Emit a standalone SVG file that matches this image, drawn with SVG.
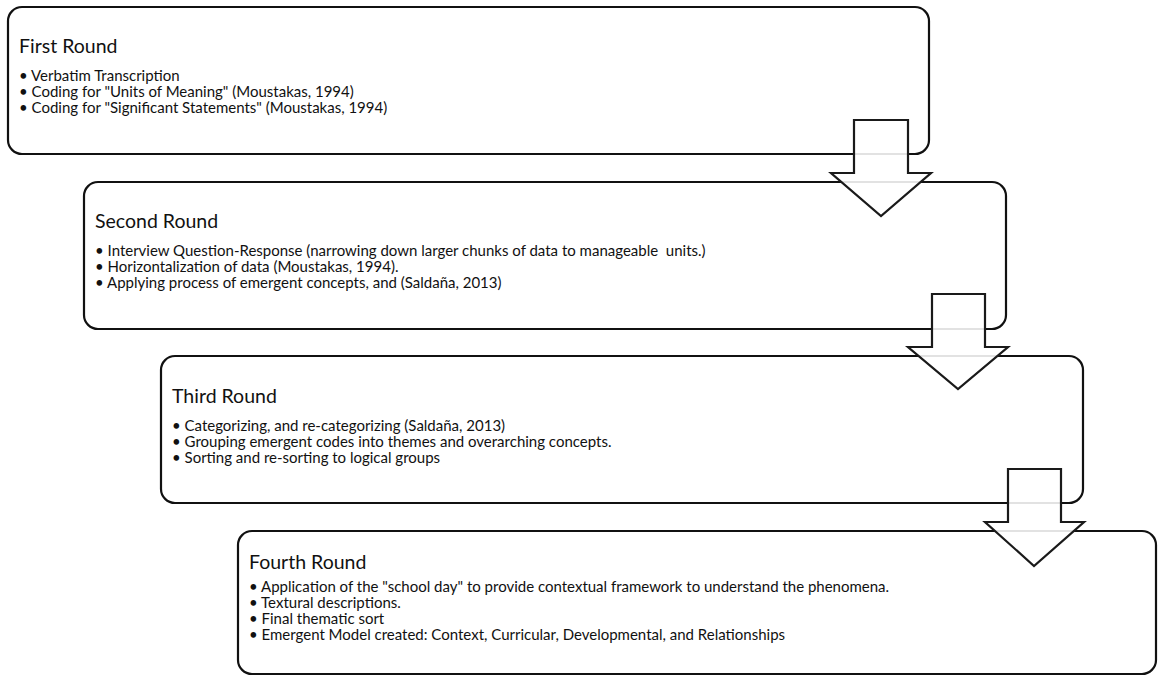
<svg xmlns="http://www.w3.org/2000/svg" width="1158" height="676" viewBox="0 0 1158 676">
<style>
.box{fill:#fff;stroke:#111;stroke-width:2.2}
.arrow{fill:#fff;fill-opacity:0.88;stroke:#1a1a1a;stroke-width:2.2;stroke-linejoin:miter}
.t{font-family:Lato,"Open Sans","Liberation Sans",sans-serif;fill:#111;font-size:19.5px}
.b{font-family:Lato,"Open Sans","Liberation Sans",sans-serif;fill:#111;font-size:15px}
</style>
<rect width="1158" height="676" fill="#fff"/>
<g id="round1">
<rect class="box" x="8" y="7" width="921" height="147" rx="14"/>
<text class="t" x="19" y="53">First Round</text>
<text class="b" x="19" y="81">• Verbatim Transcription</text>
<text class="b" x="19" y="97">• Coding for "Units of Meaning" (Moustakas, 1994)</text>
<text class="b" x="19" y="113">• Coding for "Significant Statements" (Moustakas, 1994)</text>
</g>
<g id="round2">
<rect class="box" x="84" y="182" width="922" height="147" rx="14"/>
<text class="t" x="95" y="228">Second Round</text>
<text class="b" x="95" y="256" xml:space="preserve">• Interview Question-Response (narrowing down larger chunks of data to manageable  units.)</text>
<text class="b" x="95" y="272">• Horizontalization of data (Moustakas, 1994).</text>
<text class="b" x="95" y="288">• Applying process of emergent concepts, and (Saldaña, 2013)</text>
</g>
<g id="round3">
<rect class="box" x="161" y="356" width="922" height="147" rx="14"/>
<text class="t" x="172" y="403">Third Round</text>
<text class="b" x="172" y="431">• Categorizing, and re-categorizing (Saldaña, 2013)</text>
<text class="b" x="172" y="447">• Grouping emergent codes into themes and overarching concepts.</text>
<text class="b" x="172" y="463">• Sorting and re-sorting to logical groups</text>
</g>
<g id="round4">
<rect class="box" x="238" y="531" width="918" height="143" rx="14"/>
<text class="t" x="249" y="569">Fourth Round</text>
<text class="b" x="249" y="592">• Application of the "school day" to provide contextual framework to understand the phenomena.</text>
<text class="b" x="249" y="608">• Textural descriptions.</text>
<text class="b" x="249" y="624">• Final thematic sort</text>
<text class="b" x="249" y="640">• Emergent Model created: Context, Curricular, Developmental, and Relationships</text>
</g>
<g id="connectors">
<path class="arrow" d="M854,120 H908 V173 H931 L881,216 L831,173 H854 Z"/>
<path class="arrow" d="M932,294 H985 V347 H1008 L958,389 L908,347 H932 Z"/>
<path class="arrow" d="M1008,469 H1061 V522 H1084 L1034,566 L985,522 H1008 Z"/>
</g>
</svg>
